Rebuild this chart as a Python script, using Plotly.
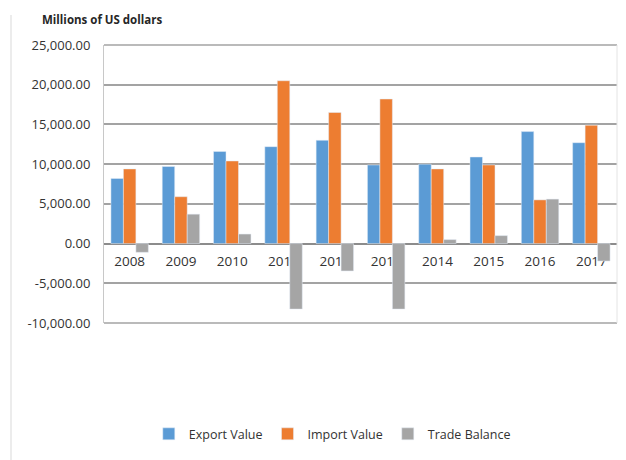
import plotly.graph_objects as go

years = ["2008", "2009", "2010", "2011", "2012", "2013", "2014", "2015", "2016", "2017"]
tick_text = ["2008", "2009", "2010", "2011", "2012", "2013", "2014", "2015", "2016", "2017"]
export_value = [8200, 9700, 11600, 12200, 13000, 9900, 10000, 10900, 14100, 12700]
import_value = [9400, 5900, 10400, 20500, 16500, 18200, 9400, 9900, 5500, 14900]
trade_balance = [-1100, 3700, 1200, -8250, -3450, -8250, 500, 1000, 5600, -2200]
y_ticks = [-10000, -5000, 0, 5000, 10000, 15000, 20000, 25000]
y_tick_text = ["-10,000.00", "-5,000.00", "0.00", "5,000.00", "10,000.00",
               "15,000.00", "20,000.00", "25,000.00"]

y_min, y_max = -10000, 25000
font_family = "Open Sans, Lato, Arial, sans-serif"
text_color = "#333333"
grid_color = "#a3a3a3"

fig = go.Figure()
fig.add_trace(go.Bar(name="Export Value", x=years, y=export_value, marker_color="#5B9BD5"))
fig.add_trace(go.Bar(name="Import Value", x=years, y=import_value, marker_color="#ED7D31"))
fig.add_trace(go.Bar(name="Trade Balance", x=years, y=trade_balance, marker_color="#A5A5A5"))

zero_pos = (0 - y_min) / (y_max - y_min)

fig.update_layout(
    width=626, height=460,
    margin=dict(l=104, r=9, t=45, b=137),
    paper_bgcolor="white", plot_bgcolor="white",
    barmode="group", bargap=0.27, bargroupgap=0,
    font=dict(family=font_family, size=12, color=text_color),
    title=dict(text="<b>Millions of US dollars</b>", xref="container", yref="container",
               x=42/626, y=1-20/460, xanchor="left", yanchor="middle",
               font=dict(size=11.5, color="#262626", family=font_family)),
    xaxis=dict(type="category", tickmode="array", tickvals=years, ticktext=tick_text,
               anchor="free", position=zero_pos, layer="below traces",
               showline=True, linecolor="#8c8c8c", linewidth=1.5,
               showgrid=False, ticks="", ticklabelstandoff=5,
               tickfont=dict(size=13.5, color=text_color), zeroline=False),
    yaxis=dict(range=[y_min, y_max], tickmode="array", tickvals=y_ticks,
               ticktext=y_tick_text,
               showgrid=True, gridcolor=grid_color, gridwidth=1.6,
               zeroline=False, showline=True, linecolor="#c8c8c8", linewidth=1,
               ticks="", ticklabelstandoff=10,
               tickfont=dict(size=13, color=text_color)),
    legend=dict(orientation="h", x=0.445, xanchor="center", y=-0.40, yanchor="middle",
                font=dict(size=12.5, color=text_color), itemwidth=30,
                traceorder="normal"),
    showlegend=True,
)

# plot-area edges (top and bottom gridlines, faint right border)
fig.add_shape(type="line", xref="paper", yref="paper", x0=0, x1=1, y0=1, y1=1,
              line=dict(color=grid_color, width=1.6))
fig.add_shape(type="line", xref="paper", yref="paper", x0=0, x1=1, y0=0, y1=0,
              line=dict(color=grid_color, width=1.6))
fig.add_shape(type="line", xref="paper", yref="paper", x0=1, x1=1, y0=0, y1=1,
              line=dict(color="#e4e4e4", width=1))
# faint outer chart border on the left
fig.add_shape(type="line", xref="paper", yref="paper", x0=(11-104)/513, x1=(11-104)/513,
              y0=-137/278, y1=(323-15)/278, line=dict(color="#d9d9d9", width=1))

fig.write_html("out.html")
